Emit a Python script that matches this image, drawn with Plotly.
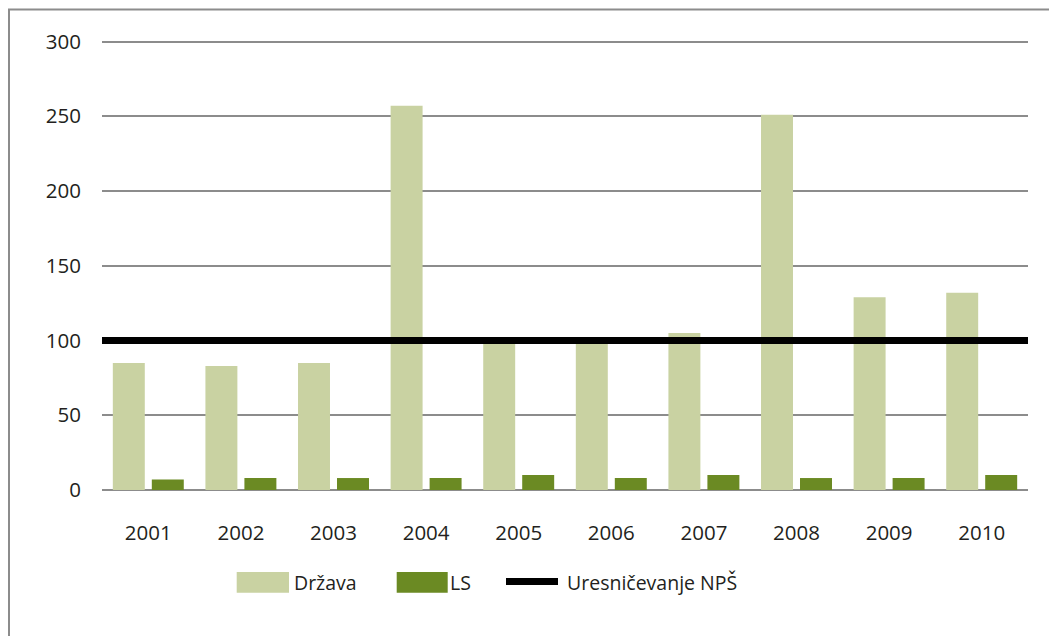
import plotly.graph_objects as go

years = ["2001", "2002", "2003", "2004", "2005", "2006", "2007", "2008", "2009", "2010"]
drzava = [85, 83, 85, 257, 99, 98, 105, 251, 129, 132]
ls = [7, 8, 8, 8, 10, 8, 10, 8, 8, 10]
nps_level = 100
y_ticks = [0, 50, 100, 150, 200, 250, 300]
y_range = [0, 301]

names = ["Država", "LS", "Uresničevanje NPŠ"]
c_drz = "#c9d2a2"
c_ls = "#6b8a23"
c_line = "#000000"
txt = "#231f20"
grid = "#8c8c8c"
FONT = "Open Sans"
FS_TICK = 20.5
FS_LEG = 19.5

# page body has an 8px margin; work in page coordinates
OFF = 8
W, H = 1057 - OFF, 636 - OFF
PLOT_L, PLOT_R, PLOT_T, PLOT_B = 102, 1028, 40, 490  # page px
L = PLOT_L - OFF
R = W - (PLOT_R - OFF)
T = PLOT_T - OFF
B = H - (PLOT_B - OFF)
PW = PLOT_R - PLOT_L
PH = PLOT_B - PLOT_T


def px(x):
    return (x - PLOT_L) / PW


def py(y):
    return (PLOT_B - y) / PH


fig = go.Figure()
fig.add_trace(go.Bar(x=years, y=drzava, name=names[0], marker=dict(color=c_drz, line=dict(width=0))))
fig.add_trace(go.Bar(x=years, y=ls, name=names[1], marker=dict(color=c_ls, line=dict(width=0))))
fig.add_trace(go.Scatter(x=[0, 1], y=[nps_level, nps_level], name=names[2], mode="lines",
                         line=dict(color=c_line, width=7), xaxis="x2"))

shapes = [
    # outer frame (only top and left edges visible)
    dict(type="rect", xref="paper", yref="paper", x0=px(9), x1=px(1080), y0=py(660), y1=py(9.5),
         line=dict(color=grid, width=2), layer="below"),
    # legend swatches
    dict(type="rect", xref="paper", yref="paper", x0=px(236.7), x1=px(289), y0=py(592.7), y1=py(572),
         fillcolor=c_drz, line=dict(width=0)),
    dict(type="rect", xref="paper", yref="paper", x0=px(396.7), x1=px(447.7), y0=py(592.7), y1=py(572),
         fillcolor=c_ls, line=dict(width=0)),
    dict(type="line", xref="paper", yref="paper", x0=px(506), x1=px(558), y0=py(581.5), y1=py(581.5),
         line=dict(color=c_line, width=7)),
]
annotations = [
    dict(text=names[0], x=px(292), y=py(582), xref="paper", yref="paper", xanchor="left", yanchor="middle",
         showarrow=False, font=dict(family=FONT, size=FS_LEG, color=txt)),
    dict(text=names[1], x=px(447.5), y=py(582), xref="paper", yref="paper", xanchor="left", yanchor="middle",
         showarrow=False, font=dict(family=FONT, size=FS_LEG, color=txt)),
    dict(text=names[2], x=px(564.5), y=py(582), xref="paper", yref="paper", xanchor="left", yanchor="middle",
         showarrow=False, font=dict(family=FONT, size=FS_LEG, color=txt)),
]

fig.update_layout(
    width=W, height=H,
    margin=dict(l=L, r=R, t=T, b=B, pad=0),
    paper_bgcolor="white", plot_bgcolor="white",
    font=dict(family=FONT, size=FS_TICK, color=txt),
    barmode="group", bargap=0.158, bargroupgap=0.18,
    showlegend=False,
    shapes=shapes, annotations=annotations,
    xaxis=dict(type="category", showgrid=False, showline=False, zeroline=False, ticks="",
               ticklabelstandoff=28, tickfont=dict(family=FONT, size=FS_TICK, color=txt)),
    xaxis2=dict(overlaying="x", range=[0, 1], visible=False),
    yaxis=dict(range=y_range, tickvals=y_ticks, showgrid=True, gridcolor=grid, gridwidth=1.6,
               zeroline=True, zerolinecolor=grid, zerolinewidth=1.6, showline=False, ticks="",
               ticklabelstandoff=20, tickfont=dict(family=FONT, size=FS_TICK, color=txt)),
)

fig.write_html("out.html")
